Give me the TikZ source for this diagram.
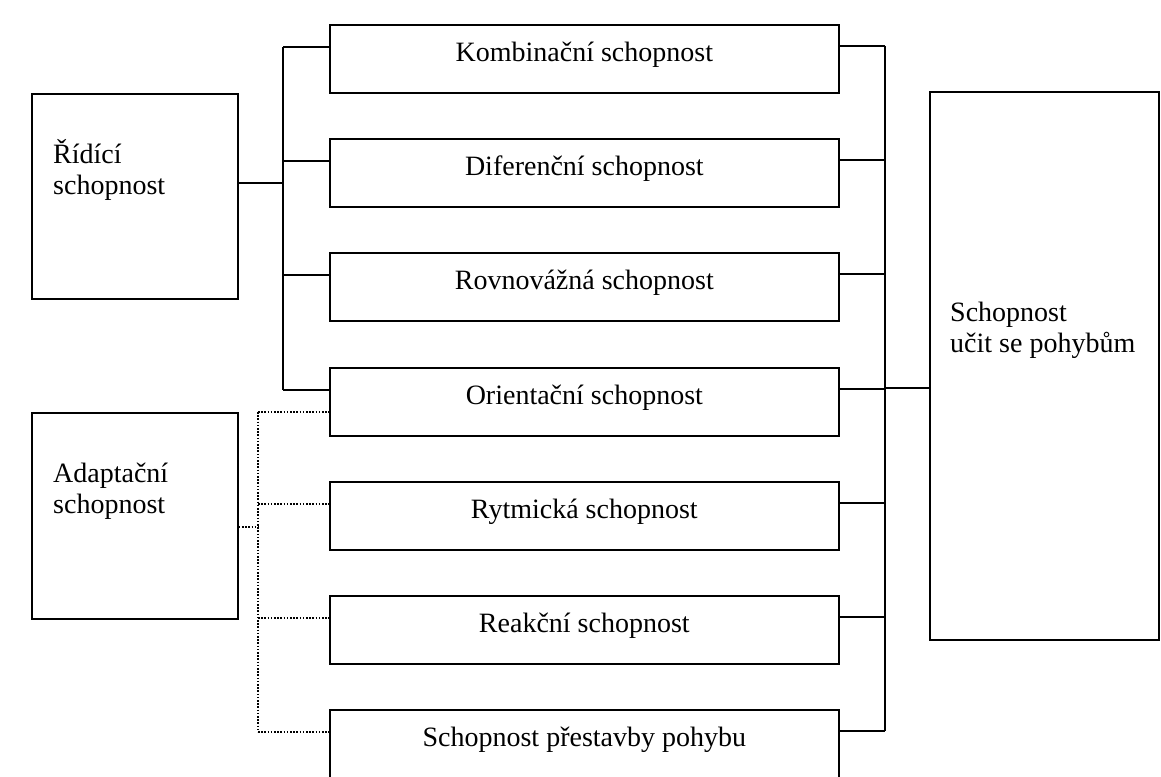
\documentclass[tikz,border=0pt]{standalone}
\usepackage{fontspec}
\setmainfont{Liberation Serif}
\usetikzlibrary{calc}
\begin{document}
\begin{tikzpicture}[x=1pt,y=-1pt,
  box/.style={draw, line width=1.7pt, rectangle, inner sep=0pt, anchor=north west},
  midbox/.style={box, minimum width=509pt, minimum height=68pt},
  txt/.style={inner sep=0pt, font=\fontsize{28}{31}\selectfont},
  conn/.style={line width=1.7pt},
  dotconn/.style={line width=1.6pt, dash pattern=on 1.6pt off 1.6pt}]
\useasboundingbox (0,0) rectangle (1161,776);
% left boxes
\node[box, minimum width=206pt, minimum height=205pt] (rid) at (31,93) {};
\node[box, minimum width=206pt, minimum height=206pt] (ada) at (31,412) {};
\node[txt, anchor=base west, align=left] (ridt) at (53,194) {Řídící\\schopnost};
\node[txt, anchor=base west, align=left] (adat) at (53,513) {Adaptační\\schopnost};
% middle boxes
\node[midbox] (m1) at (329,24) {};
\node[midbox] (m2) at (329,138) {};
\node[midbox] (m3) at (329,252) {};
\node[midbox] (m4) at (329,367) {};
\node[midbox] (m5) at (329,481) {};
\node[midbox] (m6) at (329,595) {};
\node[midbox] (m7) at (329,709) {};
\node[txt, anchor=base] (t1) at ($(m1.north)+(0,37)$) {Kombinační schopnost};
\node[txt, anchor=base] (t2) at ($(m2.north)+(0,37)$) {Diferenční schopnost};
\node[txt, anchor=base] (t3) at ($(m3.north)+(0,37)$) {Rovnovážná schopnost};
\node[txt, anchor=base] (t4) at ($(m4.north)+(0,37)$) {Orientační schopnost};
\node[txt, anchor=base] (t5) at ($(m5.north)+(0,37)$) {Rytmická schopnost};
\node[txt, anchor=base] (t6) at ($(m6.north)+(0,37)$) {Reakční schopnost};
\node[txt, anchor=base] (t7) at ($(m7.north)+(0,37)$) {Schopnost přestavby pohybu};
% right box
\node[box, minimum width=229pt, minimum height=548pt] (ucit) at (929,91) {};
\node[txt, anchor=base west, align=left] (ucitt) at (950,352) {Schopnost\\učit se pohybům};
% left solid bus
\coordinate (lb1) at ($(m1.north west)+(-46,23)$);
\coordinate (lb4) at ($(m4.north west)+(-46,23)$);
\draw[conn] (lb1) -- (lb4);
\foreach \i in {1,2,3,4}{
  \draw[conn] ($(m\i.north west)+(-46,23)$) -- ($(m\i.north west)+(0,23)$);
}
\draw[conn] (rid.east |- 0,183) -- (lb1 |- 0,183);
% dotted bus
\coordinate (db4) at ($(m4.north west)+(-71,45)$);
\coordinate (db7) at ($(m7.north west)+(-71,23)$);
\draw[dotconn] (db4) -- (db7);
\draw[dotconn] (db4) -- ($(m4.north west)+(0,45)$);
\foreach \i in {5,6,7}{
  \draw[dotconn] ($(m\i.north west)+(-71,23)$) -- ($(m\i.north west)+(0,23)$);
}
\draw[dotconn] (ada.east |- 0,527) -- (db4 |- 0,527);
% right bus
\coordinate (rb1) at ($(m1.north east)+(45,22)$);
\coordinate (rb7) at ($(m7.north east)+(45,22)$);
\draw[conn] (rb1) -- (rb7);
\foreach \i in {1,2,3,4,5,6,7}{
  \draw[conn] ($(m\i.north east)+(0,22)$) -- ($(m\i.north east)+(45,22)$);
}
\draw[conn] ($(m4.north east)+(45,21)$) -- (ucit.west |- 0,388);
\end{tikzpicture}
\end{document}
